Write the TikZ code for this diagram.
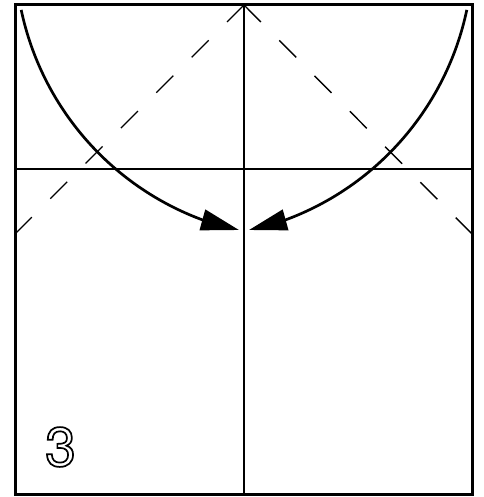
\documentclass[tikz,border=0pt]{standalone}
\usepackage{fontspec}
\setsansfont{TeX Gyre Heros}
\usetikzlibrary{arrows.meta}

% hollow (outlined) digits
\newcommand{\hollow}[1]{\special{pdf:literal direct 1 Tr 1.7 w}#1\special{pdf:literal direct 0 Tr}}

\begin{document}
\begin{tikzpicture}[
    x=1pt, y=-1pt,
    % Paper edges and creases
    edge/.style={line width=3pt},
    fold/.style={line width=2.4pt},
    crease/.style={line width=1.4pt},
    valley/.style={line width=1.4pt, dash pattern=on 24pt off 26pt},
    % Turning arrows
    turn/.style={line width=2.7pt, -{Triangle[length=38pt, width=21pt]}},
    stepnum/.style={font=\sffamily\fontsize{55}{55}\selectfont, inner sep=0pt}
]
    \useasboundingbox (0,0) rectangle (483,497);

    % --- POINTS ---
    \coordinate (tl) at (15,5);
    \coordinate (br) at (472,494);
    \coordinate (top) at (244,5);
    \coordinate (bot) at (244,494);
    \coordinate (ml) at (15,169);
    \coordinate (mr) at (472,169);
    \coordinate (dl) at (15,234);
    \coordinate (dr) at (472,234);

    % --- PAPER ---
    \draw[edge] (tl) rectangle (br);
    \draw[crease] (top) -- (bot);
    \draw[fold] (ml) -- (mr);

    % Diagonal valley folds
    \draw[valley] (top) -- (dl);
    \draw[valley] (top) -- (dr);

    % --- ARROWS ---
    \coordinate (sl) at (21.2,9.9);
    \coordinate (el) at (239,230);
    \coordinate (sr) at (466.8,9.9);
    \coordinate (er) at (249,230);
    \draw[turn] (sl) arc[start angle=168.1, end angle=110.3, radius=287] -- (el);
    \draw[turn] (sr) arc[start angle=11.9, end angle=69.7, radius=287] -- (er);

    % Step number
    \node[stepnum] (num) at (60.5,447) {\hollow{3}};

\end{tikzpicture}
\end{document}
